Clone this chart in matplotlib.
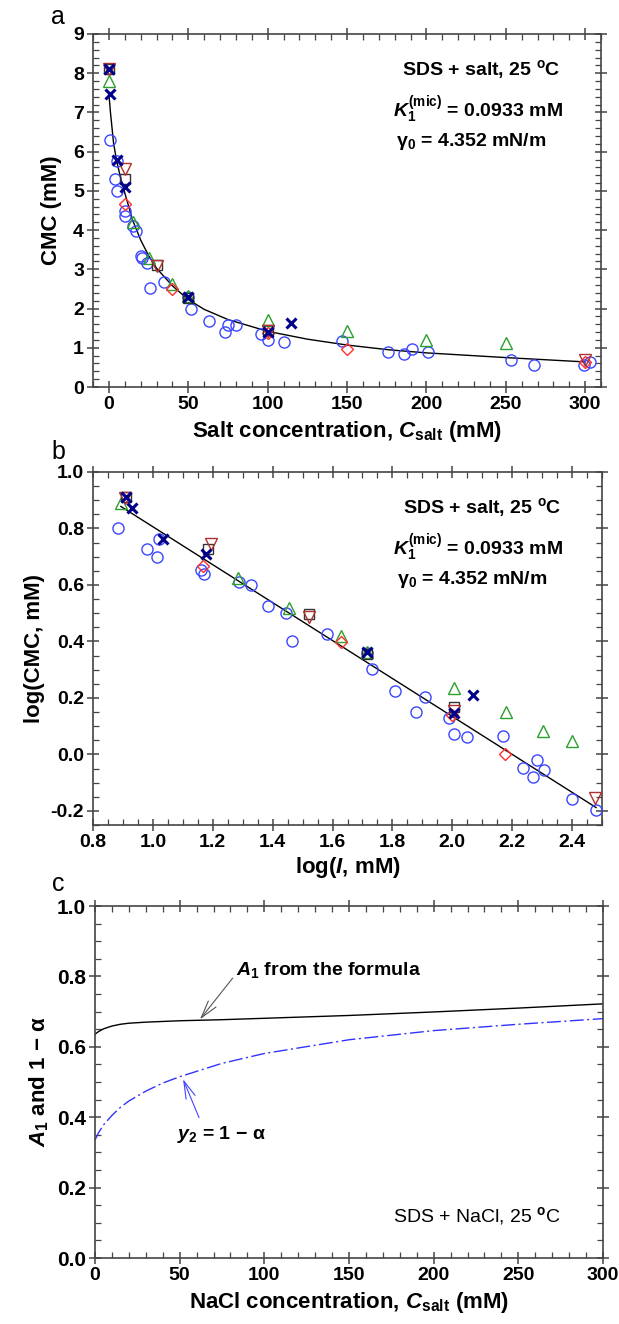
"""Recreate the SDS + salt CMC figure (panels a, b, c)."""

import matplotlib

matplotlib.use("Agg")
import matplotlib.pyplot as plt
from matplotlib.ticker import MultipleLocator

# ---- panel a: CMC vs salt concentration (mM) ----
a_circle_x = [1, 4, 5, 5, 10, 10, 15, 17, 20, 21, 24, 26, 35, 50, 52, 63, 73, 75, 80,
              96, 100, 110, 147, 176, 186, 191, 201, 253, 268, 299, 303]
a_circle_y = [6.3, 5.3, 5.0, 5.77, 4.5, 4.35, 4.1, 3.98, 3.34, 3.3, 3.16, 2.53, 2.67, 2.3, 2.0,
              1.68, 1.41, 1.59, 1.59, 1.35, 1.19, 1.15, 1.17, 0.9, 0.83, 0.96, 0.88, 0.7,
              0.56, 0.56, 0.65]
a_tri_x = [0, 15, 25, 40, 50, 100, 150, 200, 250]
a_tri_y = [7.8, 4.2, 3.3, 2.62, 2.33, 1.72, 1.42, 1.21, 1.12]
a_diam_x = [10, 40, 100, 150, 300]
a_diam_y = [4.66, 2.5, 1.38, 0.98, 0.65]
a_dtri_x = [0, 10, 30, 100, 300]
a_dtri_y = [8.1, 5.57, 3.08, 1.43, 0.68]
a_sq_x = [0, 10, 30, 50, 100]
a_sq_y = [8.12, 5.3, 3.12, 2.26, 1.46]
a_x_x = [0, 0.5, 5, 10, 50, 100, 115]
a_x_y = [8.12, 7.48, 5.78, 5.1, 2.3, 1.4, 1.62]
a_fit_x = [0, 1, 2, 3, 5, 7, 10, 15, 20, 25, 30, 40, 50, 60, 75, 100, 125, 150, 176, 200,
           250, 300]
a_fit_y = [7.48, 7.0, 6.6, 6.2, 5.75, 5.4, 4.95, 4.25, 3.75, 3.35, 3.03, 2.58, 2.23, 1.98,
           1.72, 1.42, 1.22, 1.07, 0.95, 0.87, 0.75, 0.64]

# ---- panel b: log(CMC) vs log(I) ----
b_circle_x = [0.883, 0.98, 1.015, 1.022, 1.161, 1.172, 1.286, 1.328, 1.386, 1.443, 1.465,
              1.581, 1.715, 1.731, 1.808, 1.88, 1.908, 1.99, 2.005, 2.05, 2.17, 2.235, 2.27,
              2.283, 2.305, 2.40, 2.48]
b_circle_y = [0.80, 0.726, 0.70, 0.761, 0.652, 0.638, 0.612, 0.60, 0.526, 0.50, 0.402,
              0.426, 0.36, 0.303, 0.226, 0.15, 0.203, 0.13, 0.074, 0.061, 0.065, -0.048,
              -0.081, -0.02, -0.057, -0.158, -0.198]
b_tri_x = [0.895, 1.283, 1.453, 1.628, 1.716, 2.007, 2.18, 2.303, 2.40]
b_tri_y = [0.89, 0.625, 0.52, 0.418, 0.364, 0.234, 0.15, 0.082, 0.046]
b_diam_x = [1.167, 1.628, 2.0, 2.176]
b_diam_y = [0.667, 0.398, 0.14, 0.0]
b_dtri_x = [0.908, 1.195, 1.52, 2.005, 2.478]
b_dtri_y = [0.908, 0.746, 0.487, 0.155, -0.155]
b_sq_x = [0.911, 1.183, 1.52, 1.715, 2.006]
b_sq_y = [0.912, 0.726, 0.497, 0.354, 0.168]
b_x_x = [0.91, 0.93, 1.033, 1.178, 1.715, 2.006, 2.07]
b_x_y = [0.91, 0.873, 0.762, 0.708, 0.362, 0.145, 0.21]
b_fit_x = [0.893, 2.48]
b_fit_y = [0.878, -0.188]

# ---- panel c: A1 and 1 - alpha vs NaCl concentration ----
c_x = [0, 2, 5, 10, 15, 20, 30, 40, 50, 75, 100, 150, 200, 250, 300]
c_a1 = [0.636, 0.643, 0.651, 0.659, 0.664, 0.667, 0.670, 0.672, 0.674, 0.677, 0.681,
        0.689, 0.699, 0.710, 0.722]
c_y2 = [0.335, 0.355, 0.378, 0.405, 0.428, 0.446, 0.474, 0.497, 0.515, 0.553, 0.581,
        0.620, 0.646, 0.664, 0.680]

plt.rcParams["font.family"] = ["Liberation Sans", "DejaVu Sans"]
plt.rcParams["mathtext.fontset"] = "custom"
plt.rcParams["mathtext.rm"] = "Liberation Sans:bold"
plt.rcParams["mathtext.it"] = "Liberation Sans:italic:bold"
plt.rcParams["mathtext.bf"] = "Liberation Sans:bold"

W, H = 619, 1324
fig = plt.figure(figsize=(W / 100, H / 100), dpi=100)


def px_axes(left, top, right, bottom):
    return fig.add_axes([left / W, 1 - bottom / H, (right - left) / W, (bottom - top) / H])


ax_a = px_axes(93, 34, 601, 387)
ax_b = px_axes(93, 472, 602, 825)
ax_c = px_axes(95, 906, 603, 1258)

SPINE = "#444444"
TICK_FS = 14
LABEL_FS = 16
NOTE_FS = 14

BLUE = "#3a46ff"
GREEN = "#2ca02c"
RED = "#ff3030"
DRED = "#b03030"
GREY = "#333333"
NAVY = "#00008b"


def style(ax, xmaj, xmin, ymaj, ymin):
    ax.xaxis.set_major_locator(MultipleLocator(xmaj))
    ax.xaxis.set_minor_locator(MultipleLocator(xmin))
    ax.yaxis.set_major_locator(MultipleLocator(ymaj))
    ax.yaxis.set_minor_locator(MultipleLocator(ymin))
    ax.tick_params(which="major", direction="inout", length=9, width=1.1, color=SPINE,
                   top=True, right=True, labelsize=TICK_FS, pad=2)
    ax.tick_params(which="minor", direction="in", length=4, width=0.9, color=SPINE,
                   top=True, right=True)
    for sp in ax.spines.values():
        sp.set_color(SPINE)
        sp.set_linewidth(1.2)


def bold_ticks(ax):
    for lab in ax.get_xticklabels() + ax.get_yticklabels():
        lab.set_fontweight("bold")


def scatter_sets(ax, sets):
    for xs, ys, marker, color, size, mew in sets:
        ax.plot(xs, ys, linestyle="none", marker=marker, markersize=size,
                markerfacecolor="none", markeredgecolor=color, markeredgewidth=mew,
                zorder=3)


# panel a
ax_a.plot(a_fit_x, a_fit_y, color="black", lw=1.0, zorder=2)
scatter_sets(ax_a, [
    (a_circle_x, a_circle_y, "o", BLUE, 8, 1.0),
    (a_tri_x, a_tri_y, "^", GREEN, 8, 1.0),
    (a_diam_x, a_diam_y, "D", RED, 6.5, 1.0),
    (a_sq_x, a_sq_y, "s", GREY, 7, 1.0),
    (a_dtri_x, a_dtri_y, "v", DRED, 8, 1.0),
    (a_x_x, a_x_y, "x", NAVY, 7, 2.2),
])
ax_a.set_xlim(-10, 310)
ax_a.set_ylim(0, 9)
style(ax_a, 50, 10, 1, 0.2)
bold_ticks(ax_a)
ax_a.set_xlabel("Salt concentration, $\\mathit{C}_{\\mathrm{salt}}$ (mM)",
                fontsize=LABEL_FS, fontweight="bold", labelpad=4)
ax_a.set_ylabel("CMC (mM)", fontsize=LABEL_FS, fontweight="bold", labelpad=8)

# panel b
ax_b.plot(b_fit_x, b_fit_y, color="black", lw=1.0, zorder=2)
scatter_sets(ax_b, [
    (b_circle_x, b_circle_y, "o", BLUE, 8, 1.0),
    (b_tri_x, b_tri_y, "^", GREEN, 8, 1.0),
    (b_diam_x, b_diam_y, "D", RED, 6.5, 1.0),
    (b_sq_x, b_sq_y, "s", GREY, 7, 1.0),
    (b_dtri_x, b_dtri_y, "v", DRED, 8, 1.0),
    (b_x_x, b_x_y, "x", NAVY, 7, 2.2),
])
ax_b.set_xlim(0.8, 2.5)
ax_b.set_ylim(-0.25, 1.0)
style(ax_b, 0.2, 0.05, 0.2, 0.05)
ax_b.xaxis.set_major_formatter(lambda v, p: f"{v:.1f}")
ax_b.yaxis.set_major_formatter(lambda v, p: f"{v:.1f}")
bold_ticks(ax_b)
ax_b.set_xlabel("log($\\mathit{I}$, mM)", fontsize=LABEL_FS, fontweight="bold", labelpad=3)
ax_b.set_ylabel("log(CMC, mM)", fontsize=LABEL_FS, fontweight="bold", labelpad=4)

# notes in a and b
for ax in (ax_a, ax_b):
    ax.text(0.765, 0.90, "SDS + salt, 25 $^{\\mathrm{o}}$C", transform=ax.transAxes,
            ha="center", va="center", fontsize=NOTE_FS, fontweight="bold")
    ax.text(0.757, 0.785, "$\\mathit{K}_1^{\\mathrm{(mic)}}$ = 0.0933 mM",
            transform=ax.transAxes, ha="center", va="center", fontsize=NOTE_FS,
            fontweight="bold")
    ax.text(0.745, 0.695, "γ$_{0}$ = 4.352 mN/m", transform=ax.transAxes,
            ha="center", va="center", fontsize=NOTE_FS, fontweight="bold")

# panel c
ax_c.plot(c_x, c_a1, color="black", lw=1.0)
ax_c.plot(c_x, c_y2, color="#3333ff", lw=1.0, dashes=(10, 2.5, 1.5, 2.5))
ax_c.set_xlim(0, 300)
ax_c.set_ylim(0, 1.0)
style(ax_c, 50, 10, 0.2, 0.05)
ax_c.yaxis.set_major_formatter(lambda v, p: f"{v:.1f}")
ax_c.tick_params(axis="y", which="major", labelsize=15)
bold_ticks(ax_c)
ax_c.set_xlabel("NaCl concentration, $\\mathit{C}_{\\mathrm{salt}}$ (mM)",
                fontsize=LABEL_FS, fontweight="bold", labelpad=4)
ax_c.set_ylabel("$\\mathit{A}_1$ and 1 − α", fontsize=LABEL_FS, fontweight="bold",
                labelpad=4)
ax_c.annotate("$\\mathit{A}_1$ from the formula", xy=(62, 0.678), xytext=(83.5, 0.818),
              fontsize=NOTE_FS, fontweight="bold", ha="left", va="center",
              arrowprops=dict(arrowstyle="->,head_length=0.9,head_width=0.25",
                              color="#555555", lw=0.8, shrinkA=0, shrinkB=0,
                              relpos=(-0.02, 0.1)))
ax_c.annotate("$\\mathit{y}_2$ = 1 − α", xy=(52, 0.508), xytext=(48.4, 0.35),
              fontsize=NOTE_FS, fontweight="bold", ha="left", va="center",
              arrowprops=dict(arrowstyle="->,head_length=0.9,head_width=0.25",
                              color="#4444ff", lw=0.8, shrinkA=3, shrinkB=0,
                              relpos=(0.28, 1.0)))
ax_c.text(275, 0.118, "SDS + NaCl, 25 $^{\\mathrm{o}}$C", ha="right", va="center",
          fontsize=NOTE_FS)

# panel letters
fig.text(58 / W, 1 - 17 / H, "a", fontsize=18, ha="center", va="center")
fig.text(58 / W, 1 - 452 / H, "b", fontsize=18, ha="center", va="center")
fig.text(58 / W, 1 - 884 / H, "c", fontsize=18, ha="center", va="center")

fig.savefig("out.png", dpi=100)
